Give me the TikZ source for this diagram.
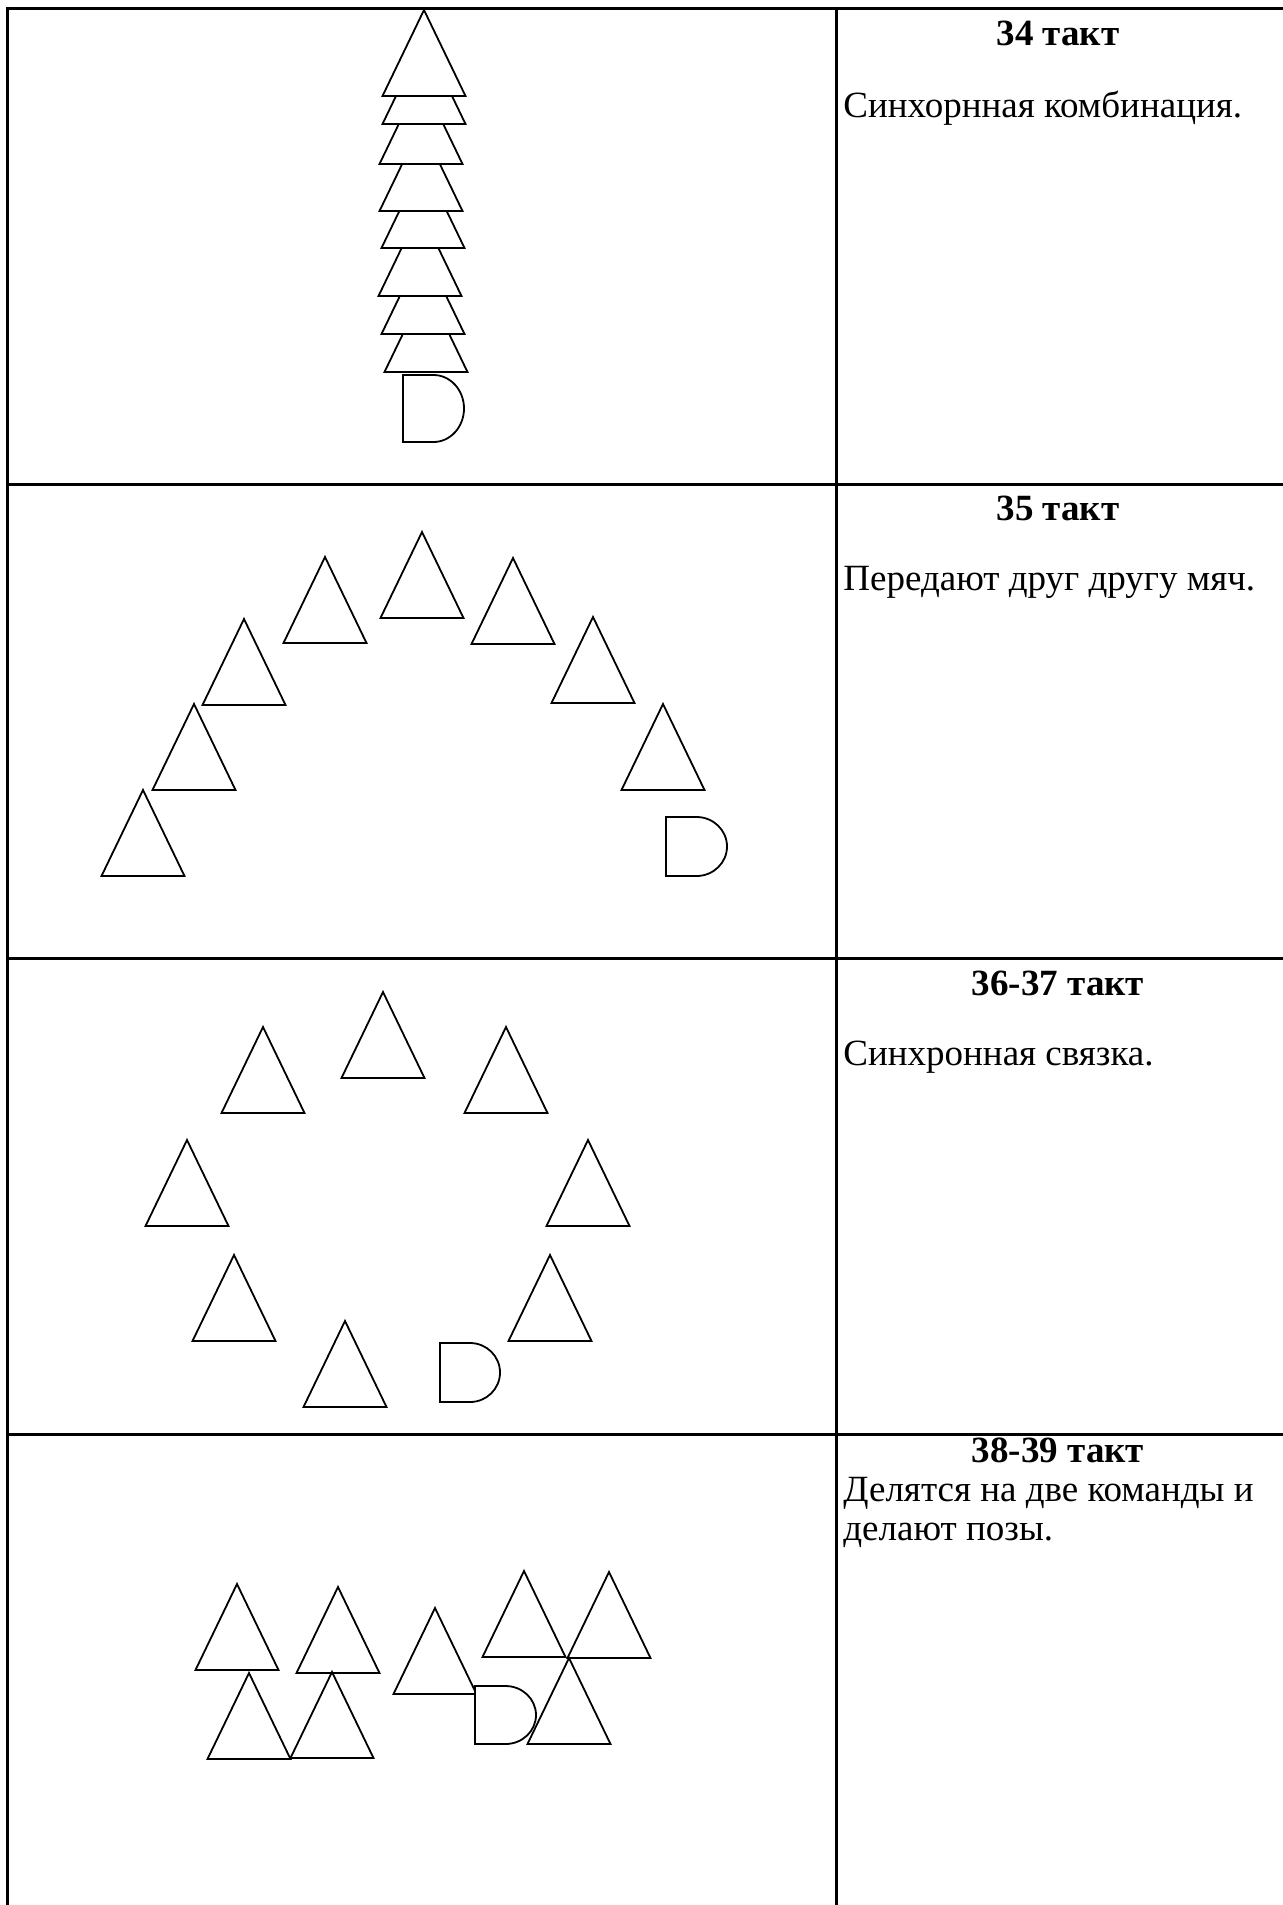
\documentclass[tikz,border=0pt]{standalone}
\usepackage{fontspec}
\setmainfont{Liberation Serif}

\begin{document}
\begin{tikzpicture}[
			x=0.5pt,
			y=-0.5pt,
			rule/.style={line width=1.5pt, line cap=rect},
			player/.style={draw, fill=white, line width=0.9pt},
			ball/.style={draw, fill=white, line width=0.9pt},
			bar label/.style={font=\fontsize{18.5}{22}\selectfont\bfseries, inner sep=0pt, anchor=base},
			note/.style={font=\fontsize{18.5}{22}\selectfont, inner sep=0pt, anchor=base west}
		]
		\useasboundingbox (0,0) rectangle (1283,1905);

		\draw[rule] (1283,9) -- (7,9) -- (7,1905);
		\draw[rule] (836,9) -- (836,1905);
		\draw[rule] (7,484) -- (1283,484);
		\draw[rule] (7,958) -- (1283,958);
		\draw[rule] (7,1434) -- (1283,1434);

		\draw[player] (426,286) -- ++(41.5,86) -- ++(-83,0) -- cycle;
		\draw[player] (423,248) -- ++(41.5,86) -- ++(-83,0) -- cycle;
		\draw[player] (420,210) -- ++(41.5,86) -- ++(-83,0) -- cycle;
		\draw[player] (423,162) -- ++(41.5,86) -- ++(-83,0) -- cycle;
		\draw[player] (421,125) -- ++(41.5,86) -- ++(-83,0) -- cycle;
		\draw[player] (421,78) -- ++(41.5,86) -- ++(-83,0) -- cycle;
		\draw[player] (424,38) -- ++(41.5,86) -- ++(-83,0) -- cycle;
		\draw[player] (424,10) -- ++(41.5,86) -- ++(-83,0) -- cycle;
		\draw[ball] (403,375) -- ++(30.5,0) arc[start angle=-90, end angle=90, x radius=30.5, y radius=33.5] -- ++(-30.5,0) -- cycle;
		\node[bar label] (bar34) at (1058,46) {34 такт};
		\node[note] (note34) at (843,118) {Синхорнная комбинация.};

		\draw[player] (143,790) -- ++(41.5,86) -- ++(-83,0) -- cycle;
		\draw[player] (194,704) -- ++(41.5,86) -- ++(-83,0) -- cycle;
		\draw[player] (244,619) -- ++(41.5,86) -- ++(-83,0) -- cycle;
		\draw[player] (325,557) -- ++(41.5,86) -- ++(-83,0) -- cycle;
		\draw[player] (422,532) -- ++(41.5,86) -- ++(-83,0) -- cycle;
		\draw[player] (513,558) -- ++(41.5,86) -- ++(-83,0) -- cycle;
		\draw[player] (593,617) -- ++(41.5,86) -- ++(-83,0) -- cycle;
		\draw[player] (663,704) -- ++(41.5,86) -- ++(-83,0) -- cycle;
		\draw[ball] (666,817) -- ++(30.5,0) arc[start angle=-90, end angle=90, x radius=30.5, y radius=29.5] -- ++(-30.5,0) -- cycle;
		\node[bar label] (bar35) at (1058,520) {35 такт};
		\node[note] (note35) at (843,590) {Передают друг другу мяч.};

		\draw[player] (383,992) -- ++(41.5,86) -- ++(-83,0) -- cycle;
		\draw[player] (263,1027) -- ++(41.5,86) -- ++(-83,0) -- cycle;
		\draw[player] (506,1027) -- ++(41.5,86) -- ++(-83,0) -- cycle;
		\draw[player] (187,1140) -- ++(41.5,86) -- ++(-83,0) -- cycle;
		\draw[player] (588,1140) -- ++(41.5,86) -- ++(-83,0) -- cycle;
		\draw[player] (234,1255) -- ++(41.5,86) -- ++(-83,0) -- cycle;
		\draw[player] (550,1255) -- ++(41.5,86) -- ++(-83,0) -- cycle;
		\draw[player] (345,1321) -- ++(41.5,86) -- ++(-83,0) -- cycle;
		\draw[ball] (440,1343) -- ++(30,0) arc[start angle=-90, end angle=90, x radius=30, y radius=29.5] -- ++(-30,0) -- cycle;
		\node[bar label] (bar36) at (1058,995) {36-37 такт};
		\node[note] (note36) at (843,1065) {Синхронная связка.};

		\draw[player] (237,1584) -- ++(41.5,86) -- ++(-83,0) -- cycle;
		\draw[player] (338,1587) -- ++(41.5,86) -- ++(-83,0) -- cycle;
		\draw[player] (249,1673) -- ++(41.5,86) -- ++(-83,0) -- cycle;
		\draw[player] (332,1672) -- ++(41.5,86) -- ++(-83,0) -- cycle;
		\draw[player] (435,1608) -- ++(41.5,86) -- ++(-83,0) -- cycle;
		\draw[player] (524,1571) -- ++(41.5,86) -- ++(-83,0) -- cycle;
		\draw[player] (609,1572) -- ++(41.5,86) -- ++(-83,0) -- cycle;
		\draw[player] (569,1658) -- ++(41.5,86) -- ++(-83,0) -- cycle;
		\draw[ball] (475,1686) -- ++(30.5,0) arc[start angle=-90, end angle=90, x radius=30.5, y radius=29] -- ++(-30.5,0) -- cycle;
		\node[bar label] (bar38) at (1058,1462) {38-39 такт};
		\node[note] (note38a) at (843,1501) {Делятся на две команды и};
		\node[note] (note38b) at (843,1540) {делают позы.};
	\end{tikzpicture}
\end{document}
